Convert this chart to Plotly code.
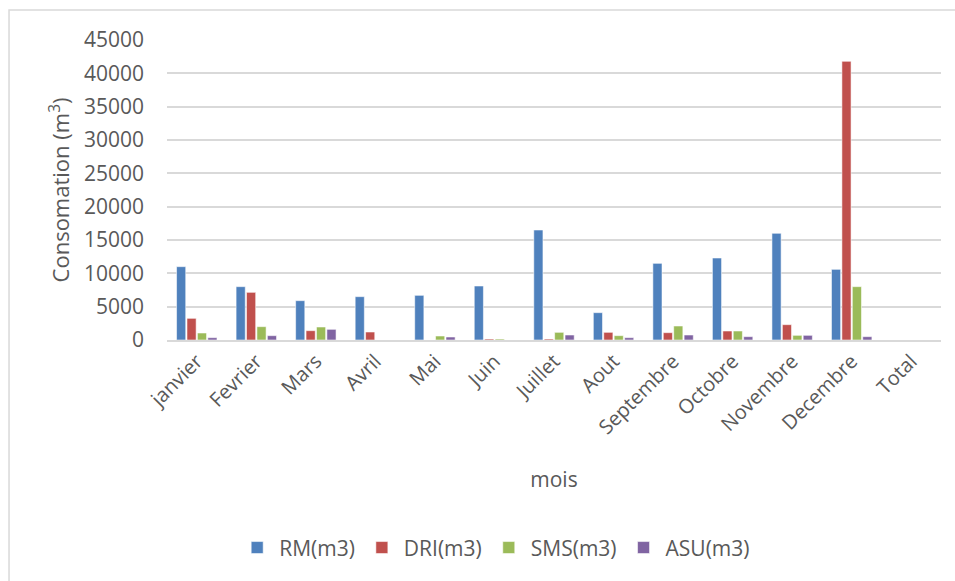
import plotly.graph_objects as go

# Monthly consumption per unit (m3)
mois = ["janvier", "Fevrier", "Mars", "Avril", "Mai", "Juin", "Juillet",
        "Aout", "Septembre", "Octobre", "Novembre", "Decembre", "Total"]
rm = [11000, 8000, 5900, 6500, 6700, 8100, 16500, 4100, 11500, 12300, 16000, 10600, 0]
dri = [3250, 7150, 1400, 1200, 0, 150, 150, 1150, 1100, 1350, 2300, 41800, 0]
sms = [1050, 2000, 1950, 0, 600, 150, 1150, 650, 2100, 1350, 700, 8000, 0]
asu = [350, 650, 1600, 0, 450, 0, 750, 350, 750, 500, 700, 500, 0]

series = [
    ("RM(m3)", rm, "#4F81BD"),
    ("DRI(m3)", dri, "#C0504D"),
    ("SMS(m3)", sms, "#9BBB59"),
    ("ASU(m3)", asu, "#8064A2"),
]

TEXT = "#595959"
FONT = "Open Sans"

fig = go.Figure()
for name, vals, color in series:
    fig.add_trace(go.Bar(
        x=mois, y=vals, name=name,
        marker=dict(color=color, line=dict(color="rgba(255,255,255,0.55)", width=1)),
    ))

fig.update_layout(
    width=955, height=581,
    margin=dict(l=167, r=14, t=40, b=241),
    paper_bgcolor="white", plot_bgcolor="white",
    font=dict(family=FONT, color=TEXT, size=22),
    barmode="group", bargap=0.3, bargroupgap=0.12,
    showlegend=True,
    legend=dict(orientation="h", xanchor="center", yanchor="middle",
                x=0.424, y=-0.693, font=dict(size=21, color=TEXT),
                itemwidth=34, tracegroupgap=0),
    shapes=[dict(type="rect", xref="paper", yref="paper",
                 x0=-0.2041, x1=1.2, y0=-1.2, y1=1.1,
                 line=dict(color="#d9d9d9", width=1.5), layer="below")],
)

fig.update_xaxes(
    tickangle=-45, showline=True, linecolor="#d9d9d9", linewidth=1.5,
    showgrid=False, ticks="", tickfont=dict(size=20, color=TEXT),
    title=dict(text="mois", font=dict(size=21, color=TEXT), standoff=33),
)
fig.update_yaxes(
    range=[0, 45000], dtick=5000, tickformat="d",
    showgrid=True, gridcolor="#d9d9d9", gridwidth=1.5,
    zeroline=False, showline=False, ticks="", ticklabelstandoff=22,
    tickfont=dict(size=21, color=TEXT),
    title=dict(text="Consomation (m<sup>3</sup>)", font=dict(size=22, color=TEXT), standoff=8),
)

fig.write_html("out.html")
